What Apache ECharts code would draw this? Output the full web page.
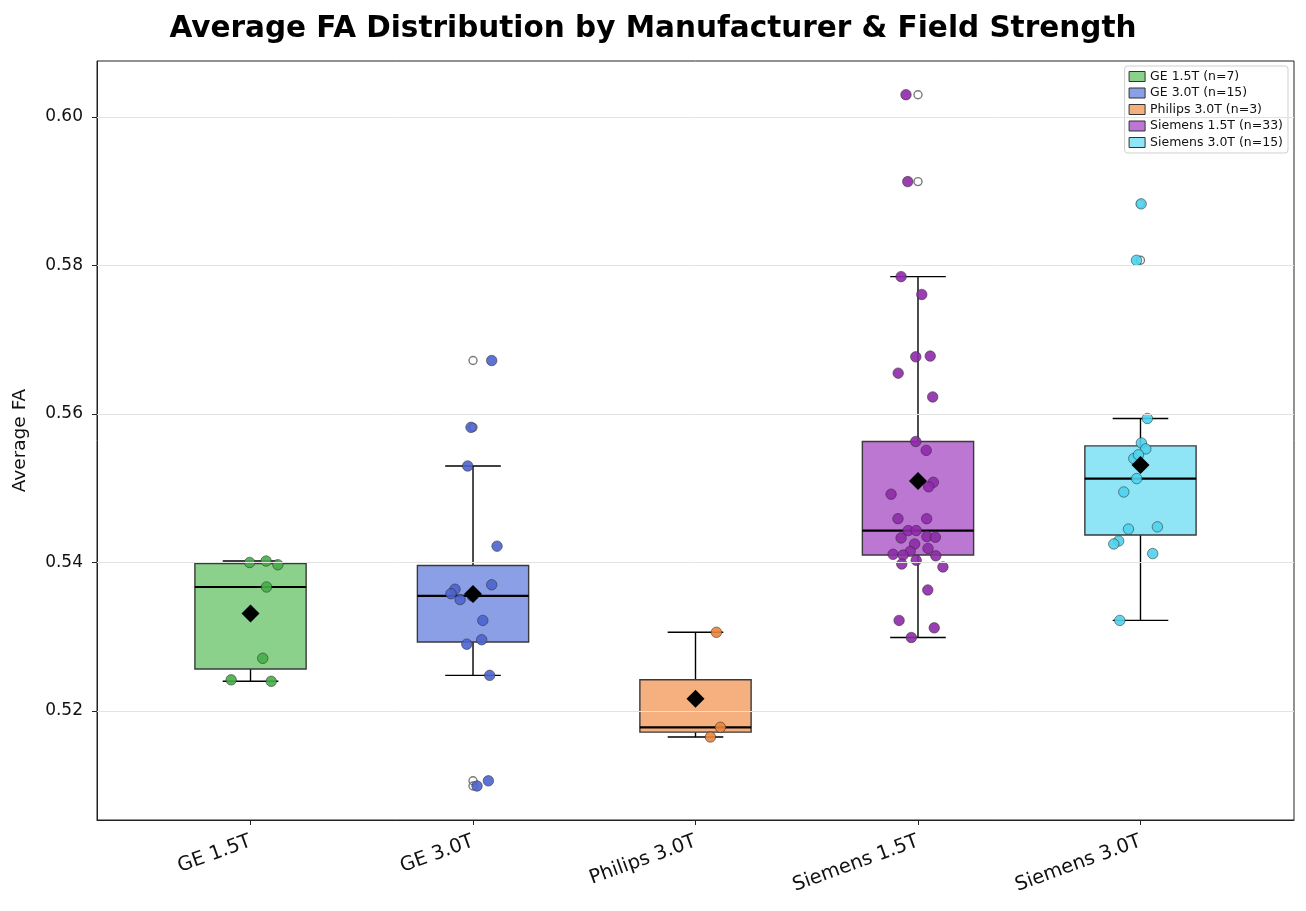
<!DOCTYPE html>
<html>
<head>
<meta charset="utf-8">
<script src="https://cdn.jsdelivr.net/npm/echarts@6/dist/echarts.min.js"></script>
<style>
    html, body { margin: 0; background: #fff; }
    #chart { width: 1306px; height: 911px; }
</style>
</head>
<body>
<div id="chart"></div>
<script>
// 分组名称
var groups = ['GE 1.5T', 'GE 3.0T', 'Philips 3.0T', 'Siemens 1.5T', 'Siemens 3.0T'];
var yTicks = [0.52, 0.54, 0.56, 0.58, 0.60];

// 每组的 FA 数值
var ge15 = [0.5400, 0.5402, 0.5397, 0.5367, 0.5271, 0.5242, 0.5240];
var ge30 = [0.5672, 0.5582, 0.5530, 0.5422, 0.5370, 0.5364, 0.5358, 0.5350, 0.5355, 0.5322,
            0.5296, 0.5290, 0.5248, 0.5106, 0.5099];
var philips30 = [0.5306, 0.5178, 0.5165];
var siemens15 = [0.5785, 0.5761, 0.5677, 0.5678, 0.5655, 0.5623, 0.5563, 0.5551, 0.5508, 0.5502,
                 0.5492, 0.5459, 0.5459, 0.5443, 0.5443, 0.5433, 0.5435, 0.5434, 0.5425, 0.5419,
                 0.5415, 0.5411, 0.5410, 0.5409, 0.5403, 0.5398, 0.5394, 0.5363, 0.5322, 0.5312,
                 0.5299, 0.6030, 0.5913];
var siemens30 = [0.5594, 0.5561, 0.5553, 0.5540, 0.5513, 0.5495, 0.5445, 0.5448, 0.5429, 0.5425,
                 0.5412, 0.5322, 0.5883, 0.5807, 0.5545];

// 散点的水平抖动（相对类目中心）
var ge15Jitter = [-0.004, 0.070, 0.123, 0.072, 0.055, -0.087, 0.093];
var ge30Jitter = [0.084, -0.009, -0.024, 0.108, 0.084, -0.081, -0.099, -0.058, -0.004, 0.044,
                  0.039, -0.028, 0.075, 0.069, 0.018];
var philips30Jitter = [0.094, 0.112, 0.067];
var siemens15Jitter = [-0.076, 0.017, -0.010, 0.055, -0.089, 0.066, -0.010, 0.037, 0.069, 0.048,
                       -0.121, -0.090, 0.039, -0.044, -0.008, -0.076, 0.040, 0.078, -0.015, 0.045,
                       -0.035, -0.112, -0.067, 0.080, -0.008, -0.073, 0.112, 0.044, -0.085, 0.073,
                       -0.030, -0.054, -0.046];
var siemens30Jitter = [0.031, 0.004, 0.024, -0.030, -0.017, -0.075, -0.054, 0.076, -0.098, -0.120,
                       0.055, -0.093, 0.003, -0.018, -0.009];

var allValues = [ge15, ge30, philips30, siemens15, siemens30];
var allJitter = [ge15Jitter, ge30Jitter, philips30Jitter, siemens15Jitter, siemens30Jitter];

var boxColors = ['#8bd18c', '#8a9fe6', '#f6b07f', '#bb77d1', '#8fe5f6'];
var dotColors = ['#46ad49', '#4c63cf', '#e8843d', '#8e2aa8', '#4fd2ec'];

var BOX_HALF = 0.25;
var CAP_HALF = 0.125;

// 分位数（线性插值，和 numpy 默认一致）
function quantile(sorted, p) {
    var h = (sorted.length - 1) * p;
    var lo = Math.floor(h);
    var hi = Math.min(lo + 1, sorted.length - 1);
    return sorted[lo] + (h - lo) * (sorted[hi] - sorted[lo]);
}

function boxStats(vals) {
    var s = vals.slice().sort(function(a, b) { return a - b; });
    var q1 = quantile(s, 0.25), med = quantile(s, 0.5), q3 = quantile(s, 0.75);
    var iqr = q3 - q1;
    var lowFence = q1 - 1.5 * iqr, highFence = q3 + 1.5 * iqr;
    var inside = s.filter(function(v) { return v >= lowFence && v <= highFence; });
    var outliers = s.filter(function(v) { return v < lowFence || v > highFence; });
    var mean = s.reduce(function(a, b) { return a + b; }, 0) / s.length;
    return {
        q1: q1, med: med, q3: q3,
        lo: inside[0], hi: inside[inside.length - 1],
        outliers: outliers, mean: mean
    };
}

var stats = allValues.map(boxStats);

function renderBox(params, api) {
    var x = api.value(0);
    var q1 = api.value(1), med = api.value(2), q3 = api.value(3), lo = api.value(4), hi = api.value(5);
    var tl = api.coord([x - BOX_HALF, q3]);
    var br = api.coord([x + BOX_HALF, q1]);
    var mid = api.coord([x, med]);
    var top = api.coord([x, hi]);
    var bot = api.coord([x, lo]);
    var capL = api.coord([x - CAP_HALF, hi])[0];
    var capR = api.coord([x + CAP_HALF, hi])[0];
    var color = api.visual('color');
    var black = { stroke: '#000', lineWidth: 1.4 };
    return {
        type: 'group',
        children: [
            { type: 'line', shape: { x1: top[0], y1: top[1], x2: top[0], y2: tl[1] }, style: black },
            { type: 'line', shape: { x1: bot[0], y1: bot[1], x2: bot[0], y2: br[1] }, style: black },
            { type: 'line', shape: { x1: capL, y1: top[1], x2: capR, y2: top[1] }, style: black },
            { type: 'line', shape: { x1: capL, y1: bot[1], x2: capR, y2: bot[1] }, style: black },
            {
                type: 'rect',
                shape: { x: tl[0], y: tl[1], width: br[0] - tl[0], height: br[1] - tl[1] },
                style: { fill: color, stroke: '#3a3a3a', lineWidth: 1.4 }
            },
            {
                type: 'line',
                shape: { x1: tl[0], y1: mid[1], x2: br[0], y2: mid[1] },
                style: { stroke: '#000', lineWidth: 2.2 }
            }
        ]
    };
}

var legendNames = groups.map(function(g, i) {
    return g + ' (n=' + allValues[i].length + ')';
});

var series = [];

// 背景横向网格线
series.push({
    type: 'scatter',
    data: [],
    silent: true,
    z: 0,
    markLine: {
        silent: true,
        symbol: 'none',
        label: { show: false },
        lineStyle: { color: '#e3e3e3', width: 1, type: 'solid' },
        data: yTicks.map(function(v) { return { yAxis: v }; })
    }
});

groups.forEach(function(g, i) {
    var st = stats[i];
    // 箱体
    series.push({
        name: legendNames[i],
        type: 'custom',
        z: 2,
        itemStyle: { color: boxColors[i] },
        encode: { x: 0, y: [1, 2, 3, 4, 5] },
        renderItem: renderBox,
        data: [[i + 1, st.q1, st.med, st.q3, st.lo, st.hi]]
    });
    // 离群点（空心）
    series.push({
        type: 'scatter',
        z: 3,
        symbol: 'circle',
        symbolSize: 8,
        itemStyle: { color: 'rgba(255,255,255,0)', borderColor: '#7a7a7a', borderWidth: 1.4, opacity: 1 },
        data: st.outliers.map(function(v) { return [i + 1, v]; })
    });
    // 抖动散点
    series.push({
        type: 'scatter',
        z: 4,
        symbol: 'circle',
        symbolSize: 10.5,
        itemStyle: { color: dotColors[i], opacity: 0.9, borderColor: '#2a2a2a', borderWidth: 0.6 },
        data: allValues[i].map(function(v, k) { return [i + 1 + allJitter[i][k], v]; })
    });
    // 均值菱形
    series.push({
        type: 'scatter',
        z: 5,
        symbol: 'diamond',
        symbolSize: 18,
        itemStyle: { color: '#000', opacity: 1 },
        data: [[i + 1, st.mean]]
    });
});

var myChart = echarts.init(document.getElementById('chart'));
var option = {
    animation: false,
    backgroundColor: '#fff',
    textStyle: { fontFamily: 'DejaVu Sans' },
    title: {
        text: 'Average FA Distribution by Manufacturer & Field Strength',
        left: 'center',
        top: 9,
        textStyle: { fontSize: 29.5, fontWeight: 'bold', color: '#000', fontFamily: 'DejaVu Sans' }
    },
    legend: {
        orient: 'vertical',
        right: 18,
        top: 66,
        icon: 'rect',
        itemWidth: 16,
        itemHeight: 10,
        itemGap: 3.5,
        padding: [4, 5, 4, 4],
        backgroundColor: '#fff',
        borderColor: '#cfcfcf',
        borderWidth: 1,
        borderRadius: 3,
        textStyle: { fontSize: 12.5, color: '#111', fontFamily: 'DejaVu Sans' },
        data: legendNames.map(function(n, i) {
            return { name: n, itemStyle: { color: boxColors[i], borderColor: '#333', borderWidth: 1 } };
        })
    },
    grid: {
        left: 97,
        right: 12,
        top: 61,
        bottom: 91,
        show: true,
        borderColor: '#222',
        borderWidth: 1
    },
    xAxis: {
        type: 'value',
        min: 0.31,
        max: 5.69,
        splitLine: { show: false },
        axisLine: { show: true, lineStyle: { color: '#222' } },
        axisTick: {
            show: true,
            length: 5,
            customValues: [1, 2, 3, 4, 5],
            lineStyle: { color: '#222' }
        },
        axisLabel: {
            customValues: [1, 2, 3, 4, 5],
            rotate: 20,
            margin: 21,
            fontSize: 19.5,
            color: '#111',
            formatter: function(v) { return groups[Math.round(v) - 1]; }
        }
    },
    yAxis: {
        type: 'value',
        min: 0.50532,
        max: 0.60754,
        name: 'Average FA',
        nameLocation: 'middle',
        nameGap: 67,
        nameTextStyle: { fontSize: 18.5, color: '#111' },
        splitLine: { show: false },
        axisLine: { show: true, lineStyle: { color: '#222' } },
        axisTick: {
            show: true,
            length: 5,
            customValues: yTicks,
            lineStyle: { color: '#222' }
        },
        axisLabel: {
            customValues: yTicks,
            fontSize: 17,
            color: '#111',
            margin: 14,
            formatter: function(v) { return v.toFixed(2); }
        }
    },
    series: series
};
myChart.setOption(option);
</script>
</body>
</html>
